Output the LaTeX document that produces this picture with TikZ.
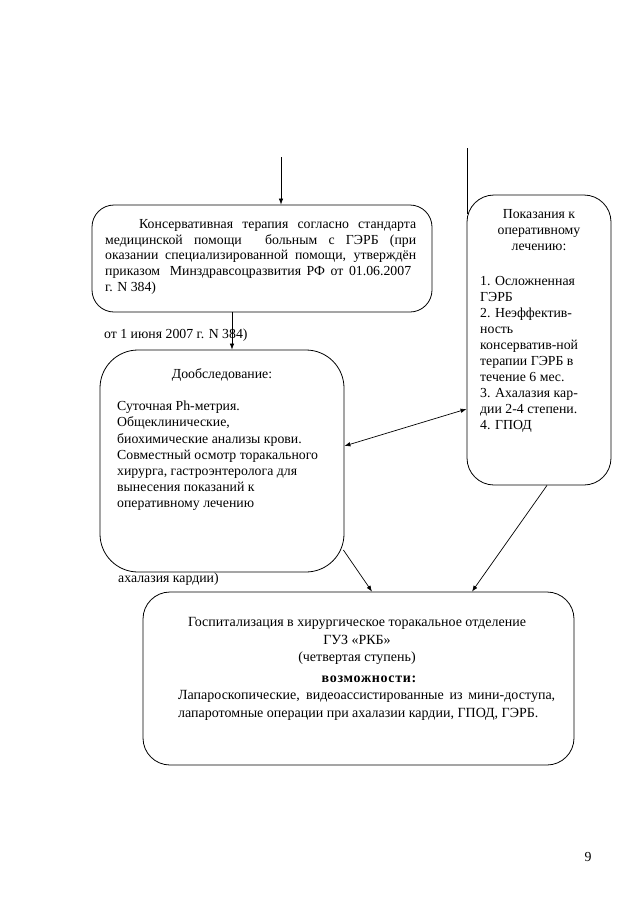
\documentclass[tikz,border=0pt]{standalone}
\usepackage{fontspec}
\setmainfont{Liberation Serif}
\usetikzlibrary{arrows.meta}
\begin{document}
\begin{tikzpicture}[x=1pt,y=-1pt,
  box/.style={draw, line width=0.8pt, rectangle, inner sep=0pt},
  txt/.style={inner sep=0pt, font=\fontsize{13.8}{15.8}\selectfont, align=left},
  txtb/.style={inner sep=0pt, font=\fontsize{13.8}{16.2}\selectfont, align=left},
  txtr/.style={inner sep=0pt, font=\fontsize{13.8}{16}\selectfont, align=left},
  txtc/.style={inner sep=0pt, font=\fontsize{14}{17.7}\selectfont, align=left},
  con/.style={line width=0.7pt, -{Latex[length=6pt,width=4.5pt]}},
  dcon/.style={line width=0.7pt, {Latex[length=6pt,width=4.5pt]}-{Latex[length=6pt,width=4.5pt]}},
  lin/.style={line width=0.7pt},
]
\path[use as bounding box, fill=white] (0,0) rectangle (638,903);

% boxes
\node[box, rounded corners=22pt, minimum width=340pt, minimum height=107pt] (b1) at (262,258.5) {};
\node[box, rounded corners=38pt, minimum width=244pt, minimum height=222pt] (b2) at (222,461) {};
\node[box, rounded corners=27pt, minimum width=144pt, minimum height=290pt] (b3) at (539,340) {};
\node[box, rounded corners=27pt, minimum width=431pt, minimum height=173pt] (b4) at (358.5,678.5) {};

% texts
\node[txt, anchor=north west] (b1txt) at (105,219) {%
\hspace*{34pt}\makebox[277pt][s]{Консервативная терапия согласно стандарта}\\
\makebox[311pt][s]{медицинской помощи\hspace{12pt} больным с ГЭРБ (при}\\
\makebox[311pt][s]{оказании специализированной помощи, утверждён}\\
\makebox[306pt][s]{приказом\hspace{4pt} Минздравсоцразвития РФ от 01.06.2007}\\
г. N 384)};

\node[txt, anchor=base west] (note1) at (104,338) {от 1 июня 2007 г. N 384)};

\node[txtb, anchor=north] (b2title) at (222,368) {Дообследование:};
\node[txtb, anchor=north west] (b2body) at (117,401) {Суточная Ph-метрия.\\
Общеклинические,\\
биохимические анализы крови.\\
Совместный осмотр торакального\\
хирурга, гастроэнтеролога для\\
вынесения показаний к\\
оперативному лечению};

\node[txt, anchor=base west] (note2) at (118,582) {ахалазия кардии)};

\node[txtr, anchor=north, align=center] (b3title) at (539,209) {Показания к\\оперативному\\лечению:};
\node[txtr, anchor=north west] (b3list) at (480,276) {1. Осложненная\\
ГЭРБ\\
2. Неэффектив-\\
ность\\
консерватив-ной\\
терапии ГЭРБ в\\
течение 6 мес.\\
3. Ахалазия кар-\\
дии 2-4 степени.\\
4. ГПОД};

\node[txtc, anchor=north, align=center] (b4title) at (357,617) {Госпитализация в хирургическое торакальное отделение\\
ГУЗ «РКБ»\\
(четвертая ступень)};
\node[txtc, anchor=base] (b4bold) at (369,682) {\bfseries\addfontfeatures{LetterSpace=5}возможности:};
\node[txtc, anchor=north west] (b4body) at (178,690) {%
\makebox[377pt][s]{Лапароскопические, видеоассистированные из мини-доступа,}\\
лапаротомные операции при ахалазии кардии, ГПОД, ГЭРБ.};

\node[txt, anchor=base] (pg) at (588,861) {9};

% connectors
\coordinate (t1) at (281,157);
\draw[con] (t1) -- (t1 |- b1.north);
\coordinate (t2) at (467,148);
\coordinate (t2e) at (467,214);
\draw[lin] (t2) -- (t2e);
\coordinate (c1) at (232,0);
\draw[con] (b1.south -| c1) -- (b2.north -| c1);
\draw[dcon] ([yshift=15pt]b2.east) -- ([yshift=-69pt]b3.west);
\coordinate (c2) at (372,0);
\draw[con] ([xshift=-1pt,yshift=-89pt]b2.east) -- (b4.north -| c2);
\coordinate (c3) at (547,0);
\coordinate (c4) at (472,0);
\draw[con] (b3.south -| c3) -- (b4.north -| c4);
\end{tikzpicture}
\end{document}
